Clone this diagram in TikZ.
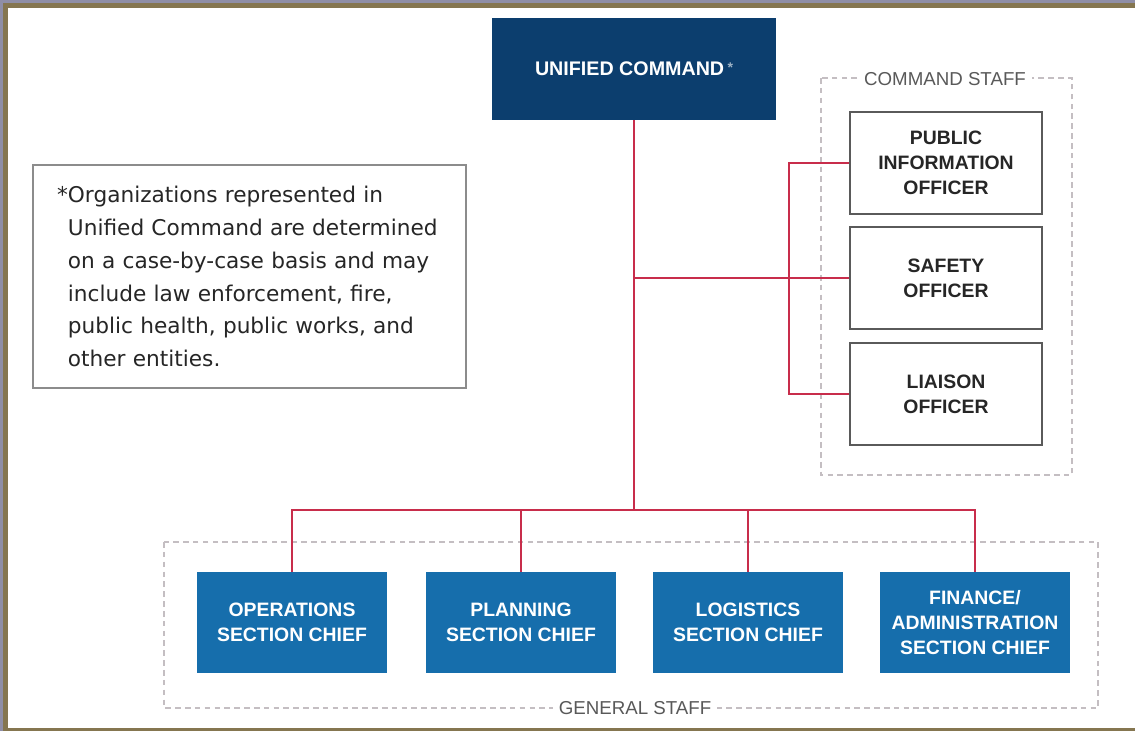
\documentclass[tikz,border=0pt]{standalone}
\usepackage{fontspec}
\setmainfont{Liberation Sans}
\newfontfamily\notefont{DejaVu Sans}
\usetikzlibrary{positioning}

\definecolor{ucnavy}{RGB}{12,62,110}
\definecolor{secblue}{RGB}{22,110,172}
\definecolor{linkred}{RGB}{200,45,75}
\definecolor{framegrey}{RGB}{143,142,166}
\definecolor{frameolive}{RGB}{133,118,80}
\definecolor{dashgrey}{RGB}{196,190,194}
\definecolor{boxgrey}{RGB}{90,90,90}

\begin{document}
\begin{tikzpicture}[x=0.025cm, y=-0.025cm,
		link/.style={linkred, line width=1.3pt},
		cmdbox/.style={fill=ucnavy, text=white, font=\bfseries\fontsize{14}{17.7}\selectfont, minimum width=7.1cm, minimum height=2.55cm},
		staffbox/.style={draw=boxgrey, line width=1.1pt, fill=white, text=black!85, align=center, font=\bfseries\fontsize{13.8}{17.7}\selectfont, minimum width=4.8cm, minimum height=2.55cm},
		secbox/.style={fill=secblue, text=white, align=center, font=\bfseries\fontsize{13.8}{17.7}\selectfont, minimum width=4.75cm, minimum height=2.525cm},
		grouprect/.style={dashgrey, line width=0.9pt, dash pattern=on 4pt off 3pt},
		grouplabel/.style={fill=white, text=black!65, inner xsep=4pt, font=\fontsize{13.3}{16}\selectfont},
		notebox/.style={draw=black!45, line width=1pt, minimum width=10.825cm, minimum height=5.575cm, inner xsep=0.875cm, text width=9.075cm, align=left, text=black!85, font=\notefont\fontsize{15.4}{23.4}\selectfont}]

				\useasboundingbox (0, 0) rectangle (1135, 731);
				\fill [white] (0, 0) rectangle (1135, 731);

				% frame round the picture
				\fill [framegrey] (0, 0) rectangle (1135, 3);
				\fill [framegrey] (0, 0) rectangle (3, 731);
				\fill [frameolive] (3, 3) rectangle (1135, 8);
				\fill [frameolive] (3, 3) rectangle (8, 731);
				\fill [frameolive] (8, 728) rectangle (1135, 731);

				% dashed groups
				\draw [grouprect] (821, 78) rectangle (1072, 475);
				\draw [grouprect] (164, 542) rectangle (1098, 708);
				\node [grouplabel] (cmdlabel) at (945, 79) {COMMAND STAFF};
				\node [grouplabel] (genlabel) at (635, 708) {GENERAL STAFF};

				%------
				\node [cmdbox] (uc) at (634, 69) {UNIFIED COMMAND\,{\color{white!60!ucnavy}\raisebox{0.3ex}{\fontsize{10}{10}\selectfont*}}};

				\node [notebox] (note) at (249.5, 276.5) {\llap{*}Organizations represented in\\\mbox{Unified Command are determined}\\on a case-by-case basis and may\\include law enforcement, fire,\\public health, public works, and\\other entities.};

				%------
				\node [staffbox] (pio) at (946, 163) {PUBLIC\\INFORMATION\\OFFICER};
				\node [staffbox] (saf) at (946, 278) {SAFETY\\OFFICER};
				\node [staffbox] (lia) at (946, 394) {LIAISON\\OFFICER};

				%------
				\node [secbox] (ops) at (292, 622.5) {OPERATIONS\\SECTION CHIEF};
				\node [secbox] (plan) at (521, 622.5) {PLANNING\\SECTION CHIEF};
				\node [secbox] (log) at (748, 622.5) {LOGISTICS\\SECTION CHIEF};
				\node [secbox] (fin) at (975, 622.5) {FINANCE/\\ADMINISTRATION\\SECTION CHIEF};

				\coordinate (genbar) at (634, 510);

				\draw [link] (uc.south) -- (genbar);
				\draw [link] (ops.north) |- (fin.north |- genbar) -- (fin.north);
				\draw [link] (plan.north) -- (plan.north |- genbar);
				\draw [link] (log.north) -- (log.north |- genbar);

				\draw [link] (uc.south |- saf.west) -- (saf.west);
				\draw [link] (pio.west) -- ++(-60, 0) |- (lia.west);
		\end{tikzpicture}
\end{document}
